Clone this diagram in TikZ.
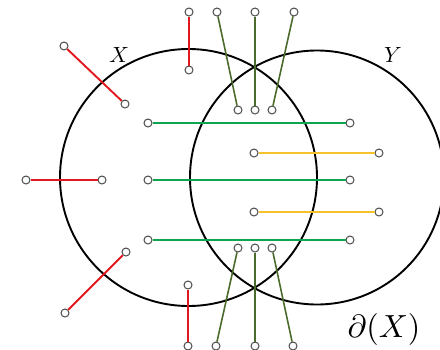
\documentclass[tikz,border=0pt]{standalone}
\begin{document}
\begin{tikzpicture}[x=1pt,y=-1pt,
  pin/.style={circle,draw=black!70,fill=white,line width=1pt,minimum size=8pt,inner sep=0pt},
  setc/.style={circle,draw=black,line width=1.9pt,inner sep=0pt},
  redl/.style={draw=myred,line width=1.9pt},
  grnl/.style={draw=mygreen,line width=1.9pt},
  yell/.style={draw=myyellow,line width=1.9pt},
  olvl/.style={draw=myolive,line width=1.6pt},
  lab/.style={inner sep=0pt,transform shape}]
\definecolor{myred}{HTML}{E3171E}
\definecolor{mygreen}{HTML}{0DA550}
\definecolor{myyellow}{HTML}{F6C22A}
\definecolor{myolive}{HTML}{4B6B2C}
\useasboundingbox (0,0) rectangle (440,349);
\node[setc,minimum size=257pt] (SX) at (188.5,177.5) {};
\node[setc,minimum size=254pt] (SY) at (317,177.5) {};
% labels
\node[lab,scale=2.2] (lx) at (119,54.5) {$X$};
\node[lab,scale=2.2] (ly) at (393,55) {$Y$};
\node[lab,scale=3.2] (ld) at (384,329) {$\partial(X)$};
% red
\node[pin] (r1a) at (64,46) {};  \node[pin] (r1b) at (125,104) {};
\node[pin] (r2a) at (189,12) {}; \node[pin] (r2b) at (189,70) {};
\node[pin] (r3a) at (26,180) {}; \node[pin] (r3b) at (102,180) {};
\node[pin] (r4a) at (65,313) {}; \node[pin] (r4b) at (126,252) {};
\node[pin] (r5a) at (188,285) {}; \node[pin] (r5b) at (188,346) {};
% green
\node[pin] (g1a) at (148,123) {}; \node[pin] (g1b) at (350,123) {};
\node[pin] (g2a) at (148,180) {}; \node[pin] (g2b) at (350,180) {};
\node[pin] (g3a) at (148,240) {}; \node[pin] (g3b) at (350,240) {};
% yellow
\node[pin] (y1a) at (254,153) {}; \node[pin] (y1b) at (379,153) {};
\node[pin] (y2a) at (254,212) {}; \node[pin] (y2b) at (379,212) {};
% olive top
\node[pin] (t1a) at (217,12) {}; \node[pin] (t1b) at (238,110) {};
\node[pin] (t2a) at (255,12) {}; \node[pin] (t2b) at (255,110) {};
\node[pin] (t3a) at (294,12) {}; \node[pin] (t3b) at (272,110) {};
% olive bottom
\node[pin] (b1a) at (238,248) {}; \node[pin] (b1b) at (216,346) {};
\node[pin] (b2a) at (255,248) {}; \node[pin] (b2b) at (255,346) {};
\node[pin] (b3a) at (272,248) {}; \node[pin] (b3b) at (293,346) {};
% connectors
\foreach \a/\b in {r1a/r1b,r2a/r2b,r3a/r3b,r4a/r4b,r5a/r5b}
  \draw[redl] (\a) -- (\b);
\foreach \a/\b in {g1a/g1b,g2a/g2b,g3a/g3b}
  \draw[grnl] (\a) -- (\b);
\foreach \a/\b in {y1a/y1b,y2a/y2b}
  \draw[yell] (\a) -- (\b);
\foreach \a/\b in {t1a/t1b,t2a/t2b,t3a/t3b,b1a/b1b,b2a/b2b,b3a/b3b}
  \draw[olvl] (\a) -- (\b);
\end{tikzpicture}
\end{document}
